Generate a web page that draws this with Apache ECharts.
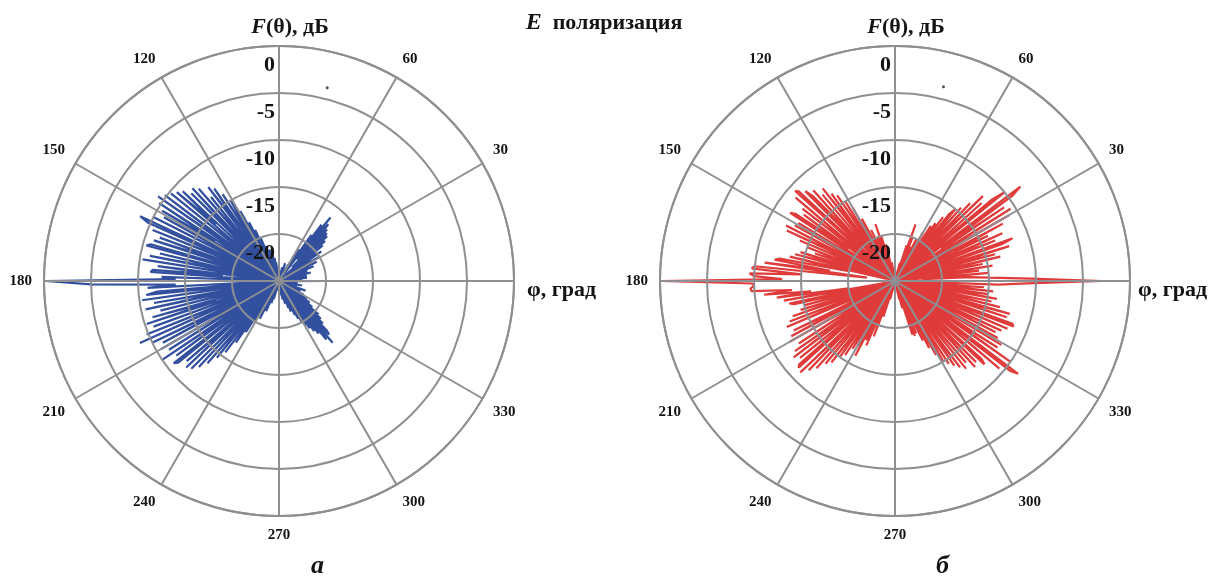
<!DOCTYPE html>
<html>
<head>
<meta charset="utf-8">
<script src="https://cdn.jsdelivr.net/npm/echarts@6/dist/echarts.min.js"></script>
<style>
  html, body { margin: 0; padding: 0; background: #ffffff; }
  #chart { width: 1208px; height: 577px; }
</style>
</head>
<body>
<div id="chart"></div>
<script>
// Measured radiation pattern F(θ), dB, sampled every 1° of φ (index = φ in degrees, 0..359)
const patternA = [
  -20, -25, -23, -25, -22.5, -25, -24, -22, -25, -23,
  -25, -22, -25, -23.5, -25, -21.5, -25, -22, -24, -21.8,
  -25, -22.5, -25, -21, -24, -22, -25, -20.5, -24, -22,
  -25, -20, -24, -21, -25, -19.5, -23, -20, -25, -19,
  -22, -18.5, -24, -18, -21, -17.8, -23, -17.5, -20, -17,
  -22, -16.3, -21, -17.5, -24, -19, -25, -21, -25, -22.5,
  -25, -23, -25, -24, -25, -23.5, -25, -25, -24, -25,
  -25, -23, -25, -25, -24, -25, -25, -23.5, -25, -25,
  -24, -25, -25, -25, -24.5, -25, -25, -25, -24, -25,
  -25, -24, -25, -25, -23.5, -25, -25, -24, -25, -23,
  -25, -22.5, -25, -24, -22, -25, -23, -21.5, -25, -22,
  -24, -21, -25, -20, -23, -19, -25, -18, -22, -16.5,
  -25, -15, -20, -14, -24, -13, -18, -12.5, -25, -13.5,
  -21, -12, -24, -11.5, -19, -11.8, -25, -11, -16, -10.6,
  -23, -10.2, -25, -9.8, -20, -9.3, -24, -9.8, -17, -10.5,
  -25, -11, -22, -10, -25, -8.7, -9.7, -21, -10.5, -25,
  -11.5, -18, -11, -24, -10.8, -10.4, -25, -12, -20, -11,
  -24, -10.3, -25, -12, -19, -11.5, -11.3, -25, -12.5, -14,
  -0.2, -5, -14, -11, -25, -12, -10.8, -22, -10.3, -25,
  -11.5, -20, -10.5, -24, -12, -25, -11, -18, -10.2, -24,
  -10.8, -25, -9.8, -21, -8.8, -25, -10, -19, -11, -24,
  -10.5, -22, -11.2, -25, -10.1, -20, -11.5, -24, -10.8, -11.2,
  -25, -12, -19, -11.5, -25, -11.8, -22, -12.5, -25, -13.4,
  -21, -14.5, -25, -15.5, -23, -17, -25, -18.5, -24, -20,
  -25, -21, -25, -20.5, -24, -22, -25, -21.5, -25, -23,
  -25, -22.5, -25, -24, -23, -25, -25, -24, -25, -25,
  -24, -25, -25, -25, -24.5, -25, -25, -25, -24, -25,
  -25, -25, -24, -25, -25, -23.5, -25, -25, -24, -25,
  -25, -23, -25, -24, -25, -22.5, -25, -23, -25, -22,
  -25, -21.5, -24, -22, -25, -21, -23, -20.5, -25, -20,
  -24, -19.5, -22, -19, -25, -18.5, -21, -18, -24, -17,
  -20, -16.3, -23, -17.2, -17.7, -25, -18.5, -22, -19, -24,
  -19.5, -25, -20.5, -23, -25, -21, -24, -25, -21.5, -25,
  -23, -22, -25, -24, -25, -22.5, -25, -24, -25, -23,
  -22, -25, -24, -25, -23, -25, -23, -25, -24, -22.5,
  -25, -23.5, -25, -24, -25, -23, -25, -24, -25, -24
];

const patternB = [
  -3, -10.5, -15, -17, -22, -15, -24, -16, -21, -14.5,
  -25, -15.5, -20, -13.5, -24, -14, -19, -12.3, -23, -13,
  -11.7, -25, -13.5, -20, -12.5, -24, -14, -18, -12, -25,
  -11, -21, -10.5, -24, -11, -19, -9.6, -8.3, -25, -10,
  -11.5, -22, -12.6, -25, -12, -20, -13.5, -24, -14.5, -21,
  -15, -15.8, -25, -16.5, -22, -17.5, -25, -18, -23, -25,
  -19, -25, -23, -20, -25, -24, -21, -25, -20, -24,
  -18.6, -25, -21, -25, -24, -23, -25, -25, -24, -25,
  -25, -24, -25, -25, -25, -24.5, -25, -25, -25, -25,
  -25, -25, -24.5, -25, -25, -25, -24, -25, -25, -24,
  -23, -25, -24, -25, -21, -25, -24, -20, -25, -18.6,
  -24, -22, -20, -25, -23, -19, -25, -22, -17.5, -24,
  -16, -25, -15, -21, -14, -25, -13.5, -19, -12.5, -24,
  -13, -25, -12, -20, -12.5, -11.5, -24, -11, -10.7, -25,
  -11.2, -21, -12.5, -25, -13, -19, -12.2, -11.7, -25, -13,
  -22, -12.8, -25, -12, -20, -12.3, -24, -14, -25, -15,
  -21, -16, -25, -14.5, -19, -14, -24, -13.5, -20, -12.5,
  -12, -18, -11, -22, -10, -9.7, -15, -9.5, -10, -13,
  -0.2, -9.8, -10, -9.6, -9.7, -14, -11, -16, -12.3, -20,
  -13, -24, -13.5, -14, -22, -15, -25, -14.5, -20, -13.5,
  -25, -13, -21, -12.5, -12.6, -24, -13, -19, -12.5, -25,
  -12, -12.1, -22, -12.8, -25, -12, -20, -11.5, -24, -12,
  -21, -11.5, -11.2, -25, -11, -19, -11.8, -24, -12.5, -22,
  -13.5, -25, -14, -20, -15, -24, -15.5, -22, -16.5, -25,
  -17, -21, -16, -25, -18, -23, -17.5, -25, -22, -18.7,
  -25, -23, -21, -25, -24, -23, -25, -25, -24, -25,
  -25, -25, -24.5, -25, -25, -25, -25, -24, -25, -25,
  -25, -25, -25, -24, -25, -25, -25, -24.5, -25, -25,
  -24, -25, -25, -23, -25, -22, -25, -24, -19, -25,
  -18.8, -23, -19, -25, -21, -18, -25, -17, -22, -16,
  -25, -15, -21, -14.5, -25, -14, -19, -13.5, -24, -13,
  -22, -13.5, -25, -12.5, -20, -12.8, -24, -12, -12.6, -25,
  -10.5, -21, -9.5, -8.6, -25, -10, -19, -12, -24, -11.8,
  -22, -12.5, -25, -13, -20, -12.5, -24, -12, -21, -11.5,
  -11.7, -25, -12.5, -19, -12.3, -24, -13.5, -22, -14.5, -25,
  -14, -20, -15, -24, -14.5, -21, -15.5, -25, -14, -11
];

// Isolated sample recorded near φ = 76° in both measurements: [F, φ]
const strayA = [-3.8, 76];
const strayB = [-3.7, 76];

// Axis ranges
const dbMin = -25, dbMax = 0, dbStep = 5;
const phiStep = 30;

const serif = '"Liberation Serif", "DejaVu Serif", serif';
const gridColor = '#8d8f92';
const textColor = '#141414';

// The angle axis runs 90..450 so the radius axis (drawn at the start angle) stands vertically;
// φ below 90° is carried into the 360..450 span.
function toPolar(db) {
  const pts = [];
  for (let a = 90; a <= 450; a++) pts.push([db[a % 360], a]);
  return pts;
}
function toAngle(p) { return [p[0], p[1] < 90 ? p[1] + 360 : p[1]]; }

// Grid is painted over the traces
function angleAxis(i) {
  return {
    polarIndex: i,
    type: 'value',
    min: 90, max: 450, interval: phiStep,
    startAngle: 90, clockwise: false,
    z: 4,
    axisLine: { lineStyle: { color: gridColor, width: 2 } },
    axisTick: { show: false },
    axisLabel: {
      margin: 12,
      fontFamily: serif, fontWeight: 'bold', fontSize: 15, color: textColor,
      formatter: v => { const d = v % 360; return (d === 0 || d === 90) ? '' : String(d); }
    },
    splitLine: { lineStyle: { color: gridColor, width: 2 } }
  };
}
function radiusAxis(i) {
  return {
    polarIndex: i,
    type: 'value',
    min: dbMin, max: dbMax, interval: dbStep,
    z: 5,
    axisLine: { show: true, lineStyle: { color: gridColor, width: 2 } },
    axisTick: { show: false },
    axisLabel: {
      fontFamily: serif, fontWeight: 'bold', fontSize: 22, color: textColor,
      align: 'right', verticalAlign: 'top', margin: 4, padding: [8, 0, 0, 0],
      formatter: v => v === dbMin ? '' : String(v)
    },
    splitLine: { lineStyle: { color: gridColor, width: 2 } },
    name: '{f|F}(θ), дБ',
    nameLocation: 'end',
    nameGap: 8,
    nameTextStyle: {
      fontFamily: serif, fontWeight: 'bold', fontSize: 22, color: textColor,
      padding: [0, 0, 0, 22],
      rich: { f: { fontFamily: serif, fontStyle: 'italic', fontWeight: 'bold', fontSize: 22, color: textColor } }
    }
  };
}

const chart = echarts.init(document.getElementById('chart'), null, { renderer: 'canvas' });
const titleStyle = { fontFamily: serif, fontWeight: 'bold', fontSize: 22, color: textColor };

chart.setOption({
  backgroundColor: '#ffffff',
  animation: false,
  title: [
    {
      text: '{e|E}  поляризация', left: 'center', top: 6,
      textStyle: Object.assign({}, titleStyle, {
        rich: { e: { fontFamily: serif, fontStyle: 'italic', fontWeight: 'bold', fontSize: 24, color: textColor } }
      })
    },
    { text: 'φ, град', left: 522, top: 274, textStyle: titleStyle },
    { text: 'φ, град', left: 1133, top: 274, textStyle: titleStyle },
    { text: 'а', left: 306, top: 548, textStyle: { fontFamily: serif, fontStyle: 'italic', fontSize: 26, color: textColor } },
    { text: 'б', left: 931, top: 548, textStyle: { fontFamily: serif, fontStyle: 'italic', fontSize: 26, color: textColor } }
  ],
  polar: [
    { center: [279, 281], radius: 235 },
    { center: [895, 281], radius: 235 }
  ],
  angleAxis: [angleAxis(0), angleAxis(1)],
  radiusAxis: [radiusAxis(0), radiusAxis(1)],
  series: [
    {
      type: 'line', coordinateSystem: 'polar', polarIndex: 0,
      data: toPolar(patternA), showSymbol: false, symbol: 'none',
      lineStyle: { color: '#33509e', width: 2.2 }, z: 1
    },
    {
      type: 'line', coordinateSystem: 'polar', polarIndex: 1,
      data: toPolar(patternB), showSymbol: false, symbol: 'none',
      lineStyle: { color: '#e03b3b', width: 2.2 }, z: 1
    },
    {
      type: 'scatter', coordinateSystem: 'polar', polarIndex: 0,
      data: [toAngle(strayA)], symbolSize: 3, itemStyle: { color: '#222' }, z: 6
    },
    {
      type: 'scatter', coordinateSystem: 'polar', polarIndex: 1,
      data: [toAngle(strayB)], symbolSize: 3, itemStyle: { color: '#222' }, z: 6
    }
  ]
});
</script>
</body>
</html>
